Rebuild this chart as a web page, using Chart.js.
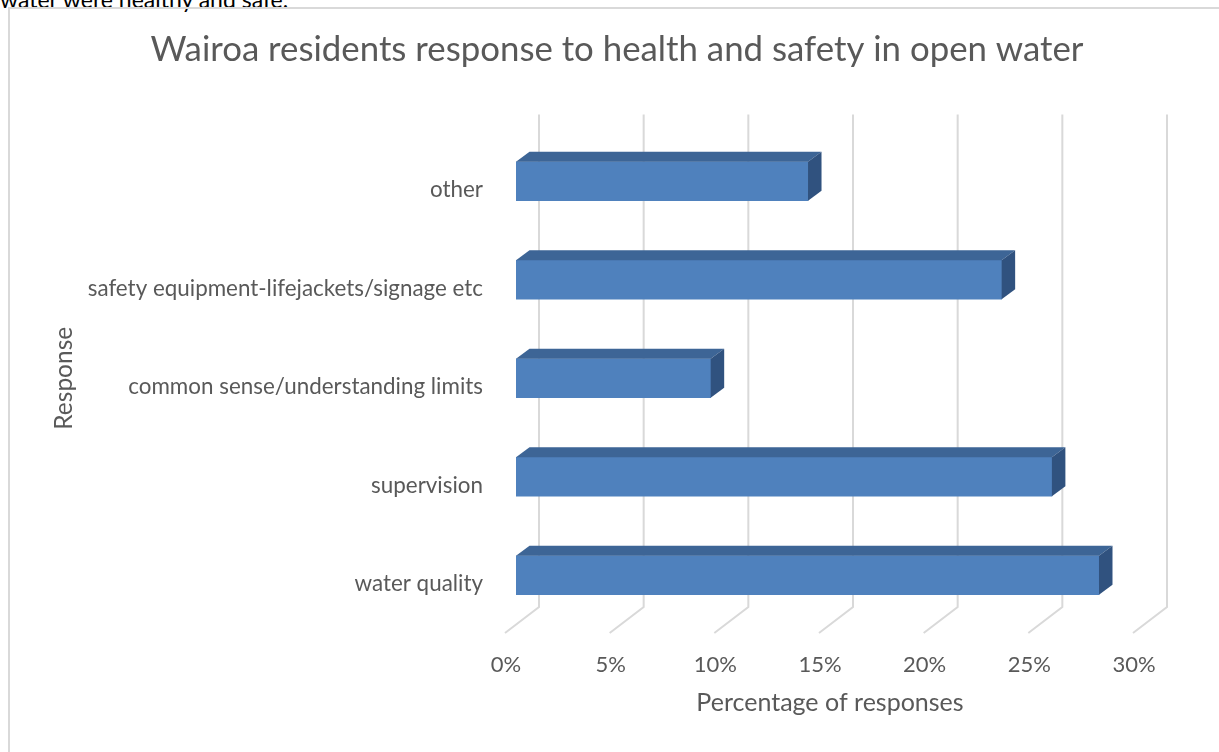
<!DOCTYPE html>
<html>
<head>
<meta charset="utf-8">
<script src="https://cdn.jsdelivr.net/npm/chart.js@4/dist/chart.umd.min.js"></script>
<style>
  html, body { margin: 0; padding: 0; background: #fff; overflow: hidden; }
  #wrap { position: relative; width: 1219px; height: 752px; }
  #frame {
    position: absolute; left: 8px; top: 7px; width: 1400px; height: 900px;
    border-left: 2px solid #d9d9d9; border-top: 2px solid #d9d9d9;
  }
  #doc-text {
    position: absolute; left: 0; top: -12px;
    font: 23px Lato, sans-serif; line-height: 1; color: #000; white-space: nowrap;
  }
  #box { position: absolute; left: 0; top: 0; width: 1219px; height: 752px; }
</style>
</head>
<body>
<div id="wrap">
  <div id="doc-text">water were healthy and safe.</div>
  <div id="frame"></div>
  <div id="box"><canvas id="chart"></canvas></div>
</div>
<script>
// chart data
const categories = [
  'other',
  'safety equipment-lifejackets/signage etc',
  'common sense/understanding limits',
  'supervision',
  'water quality'
]
const responseShare = [0.1395, 0.232, 0.093, 0.256, 0.2785]
const tickValues = [0, 0.05, 0.10, 0.15, 0.20, 0.25, 0.30]

const chartTitle = 'Wairoa residents response to health and safety in open water'

const COLORS = {
  front: '#4F81BD',
  top: '#3D6596',
  side: '#30527F',
  grid: '#D9D9D9',
  text: '#595959'
}

// depth of the fake 3D box
const BAR_DX = 13.5, BAR_DY = -10
const WALL_DX = 23, WALL_DY = -17.5
const FLOOR_DX = -11, FLOOR_DY = 8.5

// back wall + floor lines
const wallGrid = {
  id: 'wallGrid',
  beforeDatasetsDraw(chart) {
    const { ctx, chartArea, scales: { x } } = chart
    ctx.save()
    ctx.strokeStyle = COLORS.grid
    ctx.lineWidth = 2
    tickValues.forEach(v => {
      const px = x.getPixelForValue(v)
      ctx.beginPath()
      ctx.moveTo(px + WALL_DX, chartArea.top + WALL_DY)
      ctx.lineTo(px + WALL_DX, chartArea.bottom + WALL_DY)
      ctx.lineTo(px + FLOOR_DX, chartArea.bottom + FLOOR_DY)
      ctx.stroke()
    })
    ctx.restore()
  }
}

// top and end faces of each bar
const barFaces = {
  id: 'barFaces',
  afterDatasetsDraw(chart) {
    const { ctx } = chart
    const meta = chart.getDatasetMeta(0)
    ctx.save()
    meta.data.forEach(bar => {
      const { x, y, base, height } = bar.getProps(['x', 'y', 'base', 'height'], true)
      const top = y - height / 2
      const bottom = y + height / 2
      ctx.fillStyle = COLORS.top
      ctx.beginPath()
      ctx.moveTo(base, top)
      ctx.lineTo(base + BAR_DX, top + BAR_DY)
      ctx.lineTo(x + BAR_DX, top + BAR_DY)
      ctx.lineTo(x, top)
      ctx.closePath()
      ctx.fill()
      ctx.fillStyle = COLORS.side
      ctx.beginPath()
      ctx.moveTo(x, top)
      ctx.lineTo(x + BAR_DX, top + BAR_DY)
      ctx.lineTo(x + BAR_DX, bottom + BAR_DY)
      ctx.lineTo(x, bottom)
      ctx.closePath()
      ctx.fill()
    })
    ctx.restore()
  }
}

// title centred on the whole chart box, not on the plot
const boxTitle = {
  id: 'boxTitle',
  afterDraw(chart) {
    const { ctx } = chart
    ctx.save()
    ctx.font = '34.8px Lato, sans-serif'
    ctx.fillStyle = COLORS.text
    ctx.textAlign = 'center'
    ctx.textBaseline = 'middle'
    ctx.fillText(chartTitle, 617, 50)
    ctx.restore()
  }
}

new Chart(document.getElementById('chart'), {
  type: 'bar',
  data: {
    labels: categories,
    datasets: [{
      label: 'Percentage of responses',
      data: responseShare,
      backgroundColor: COLORS.front,
      borderWidth: 0,
      barThickness: 39
    }]
  },
  options: {
    indexAxis: 'y',
    responsive: true,
    maintainAspectRatio: false,
    animation: false,
    layout: {
      padding: { top: 132, right: 75, bottom: 0, left: 0 }
    },
    plugins: {
      legend: { display: false },
      tooltip: { enabled: false }
    },
    scales: {
      x: {
        min: 0,
        max: 0.30,
        afterFit: (scale) => { scale.height = 127.5 },
        grid: { display: false, drawTicks: false },
        border: { display: false },
        ticks: {
          stepSize: 0.05,
          padding: 27,
          labelOffset: -10,
          color: COLORS.text,
          font: { family: 'Lato', size: 22 },
          callback: (v) => Math.round(v * 100) + '%'
        },
        title: {
          display: true,
          text: 'Percentage of responses',
          color: COLORS.text,
          font: { family: 'Lato', size: 25 },
          padding: { top: 0, bottom: 34 }
        }
      },
      y: {
        afterFit: (scale) => { scale.width = 516 },
        grid: { display: false, drawTicks: false },
        border: { display: false },
        ticks: {
          padding: 33,
          labelOffset: 9,
          color: COLORS.text,
          font: { family: 'Lato', size: 22.4 }
        },
        title: {
          display: true,
          text: 'Response',
          color: COLORS.text,
          font: { family: 'Lato', size: 24.5 },
          padding: { top: 49.4, bottom: 0 }
        }
      }
    }
  },
  plugins: [wallGrid, barFaces, boxTitle]
})
</script>
</body>
</html>
